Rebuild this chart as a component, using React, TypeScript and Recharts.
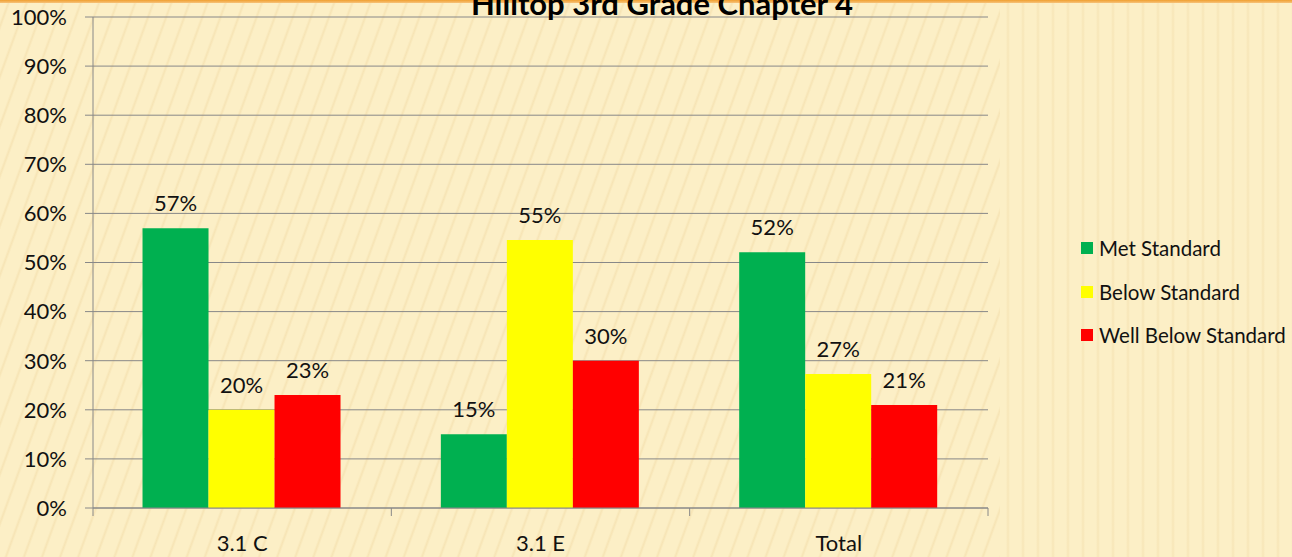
import React from "react";
import { BarChart, Bar, XAxis, YAxis, CartesianGrid, LabelList } from "recharts";

const categories = ["3.1 C", "3.1 E", "Total"];
const metStandard = [57, 15, 52.1];
const belowStandard = [20, 54.6, 27.3];
const wellBelowStandard = [23, 30, 21];
const yTicks = [0, 10, 20, 30, 40, 50, 60, 70, 80, 90, 100];
const seriesNames = ["Met Standard", "Below Standard", "Well Below Standard"];
const seriesColors = ["#00B050", "#FFFF00", "#FF0000"];
const seriesKeys = ["met", "below", "well"];
const title = "Hilltop 3rd Grade Chapter 4";

const data = categories.map((c, i) => ({
  name: c,
  met: metStandard[i],
  below: belowStandard[i],
  well: wellBelowStandard[i],
}));

const FONT = "Lato, 'Noto Sans', sans-serif";
const TICK_SIZE = 8;
const X_MARGIN = 19;

const XTick = (props: any) => {
  const { x, y, payload, index, visibleTicksCount } = props;
  const off = payload && payload.offset ? payload.offset : 0;
  const axisY = y - TICK_SIZE - X_MARGIN;
  const isLast = index === (visibleTicksCount ?? categories.length) - 1;
  return (
    <g>
      <line x1={x - off} x2={x - off} y1={axisY} y2={axisY + TICK_SIZE} stroke="#888" strokeWidth={1} />
      {isLast && (
        <line x1={x + off} x2={x + off} y1={axisY} y2={axisY + TICK_SIZE} stroke="#888" strokeWidth={1} />
      )}
      <text x={x} y={y} dy="0.71em" textAnchor="middle" fill="#111" fontSize={22} fontFamily={FONT}>
        {payload.value}
      </text>
    </g>
  );
};

const fmt = (v: any) => `${Math.round(Number(v))}%`;

export default function App() {
  return (
    <div
      style={{
        position: "absolute",
        left: 0,
        top: 0,
        width: 1292,
        height: 557,
        overflow: "hidden",
        backgroundColor: "#fcefc6",
        backgroundImage:
          "repeating-linear-gradient(110deg, rgba(236,208,150,0.0) 0px, rgba(236,208,150,0.0) 7px, rgba(236,208,150,0.35) 9px, rgba(236,208,150,0.0) 11px, rgba(236,208,150,0.0) 17px)",
      }}
    >
      <div
        style={{
          position: "absolute",
          left: 1000,
          top: 0,
          width: 292,
          height: 557,
          backgroundColor: "#fcefc6",
          backgroundImage:
            "repeating-linear-gradient(90deg, rgba(236,208,150,0.0) 0px, rgba(236,208,150,0.0) 6px, rgba(236,208,150,0.3) 8px, rgba(236,208,150,0.0) 10px, rgba(236,208,150,0.0) 15px)",
        }}
      />
      <div style={{ position: "absolute", left: 0, top: 0 }}>
        <BarChart
          width={1292}
          height={557}
          data={data}
          margin={{ top: 17, right: 304, bottom: 0, left: 0 }}
          barCategoryGap="16.6%"
          barGap={0}
        >
          <CartesianGrid horizontal vertical={false} stroke="#888" strokeWidth={1} />
          <XAxis
            dataKey="name"
            height={49}
            axisLine={{ stroke: "#888", strokeWidth: 1 }}
            tickLine={false}
            tickSize={TICK_SIZE}
            tickMargin={X_MARGIN}
            tick={<XTick />}
            interval={0}
          />
          <YAxis
            width={93}
            domain={[0, 100]}
            ticks={yTicks}
            tickFormatter={(v: any) => `${v}%`}
            axisLine={{ stroke: "#888", strokeWidth: 1 }}
            tickLine={{ stroke: "#888", strokeWidth: 1 }}
            tickSize={TICK_SIZE}
            tickMargin={18}
            tick={{ fill: "#111", fontSize: 22, fontFamily: FONT }}
            interval={0}
          />
          {seriesKeys.map((k, i) => (
            <Bar key={k} dataKey={k} name={seriesNames[i]} fill={seriesColors[i]} isAnimationActive={false}>
              <LabelList
                dataKey={k}
                position="top"
                offset={17}
                formatter={fmt}
                style={{ fill: "#111", fontSize: 22, fontFamily: FONT }}
              />
            </Bar>
          ))}
        </BarChart>
      </div>
      <div style={{ position: "absolute", left: 0, top: 0, width: 1292, height: 3, background: "linear-gradient(#f0a030, #f7c27a)" }} />
      <svg style={{ position: "absolute", left: 0, top: 0 }} width={1292} height={30}>
        <text x={662} y={15} textAnchor="middle" fontFamily={FONT} fontWeight={700} fontSize={31} fill="#000">
          {title}
        </text>
      </svg>
      <div style={{ position: "absolute", left: 1081, top: 237, fontFamily: FONT, fontSize: 20.5, color: "#111" }}>
        {seriesNames.map((n, i) => (
          <div key={n} style={{ display: "flex", alignItems: "center", height: 22, marginBottom: i < 2 ? 21.5 : 0, whiteSpace: "nowrap" }}>
            <span style={{ display: "inline-block", width: 12, height: 12, background: seriesColors[i], marginRight: 6 }} />
            <span>{n}</span>
          </div>
        ))}
      </div>
    </div>
  );
}
